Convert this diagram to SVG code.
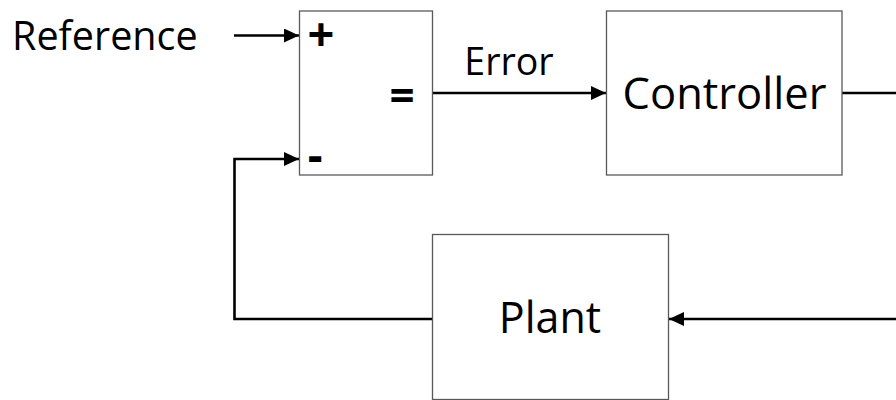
<svg xmlns="http://www.w3.org/2000/svg" width="896" height="400" viewBox="0 0 896 400">
  <style>
    .box { fill: #ffffff; stroke: #595959; stroke-width: 1.3; }
    .lbl { font-family: "Open Sans", "Noto Sans", "DejaVu Sans", sans-serif; fill: #000000; }
    .sym { font-family: "Open Sans", "Noto Sans", "DejaVu Sans", sans-serif; fill: #000000; font-weight: bold; }
    .wire { fill: none; stroke: #000000; stroke-width: 2.6; }
  </style>
  <defs>
    <marker id="ah" markerUnits="userSpaceOnUse" markerWidth="16" markerHeight="14" refX="15" refY="7" orient="auto">
      <path d="M0,0 L15,7 L0,14 z" fill="#000000"/>
    </marker>
  </defs>
  <rect width="896" height="400" fill="#ffffff"/>

  <g id="connectors">
    <path class="wire" d="M234,35.5 H299" marker-end="url(#ah)"/>
    <path class="wire" d="M433,93 H606" marker-end="url(#ah)"/>
    <path class="wire" d="M842,93 H910 V319 H669" marker-end="url(#ah)"/>
    <path class="wire" d="M432,319 H234.5 V159 H299" marker-end="url(#ah)"/>
  </g>

  <g id="reference">
    <text class="lbl" x="12" y="49.5" font-size="39.5">Reference</text>
  </g>

  <g id="summer">
    <rect class="box" x="299.5" y="11" width="133" height="164"/>
    <text class="sym" x="321" y="51" font-size="47" text-anchor="middle">+</text>
    <text class="sym" x="402" y="111" font-size="44" text-anchor="middle">=</text>
    <text class="sym" x="307.7" y="171.5" font-size="46">-</text>
  </g>

  <g id="error-label">
    <text class="lbl" x="464.3" y="75" font-size="37.5">Error</text>
  </g>

  <g id="controller">
    <rect class="box" x="606.5" y="11" width="235.5" height="164"/>
    <text class="lbl" x="724.5" y="109" font-size="43.5" text-anchor="middle">Controller</text>
  </g>

  <g id="plant">
    <rect class="box" x="432.5" y="234.5" width="236" height="165"/>
    <text class="lbl" x="550" y="333" font-size="43" text-anchor="middle">Plant</text>
  </g>
</svg>
